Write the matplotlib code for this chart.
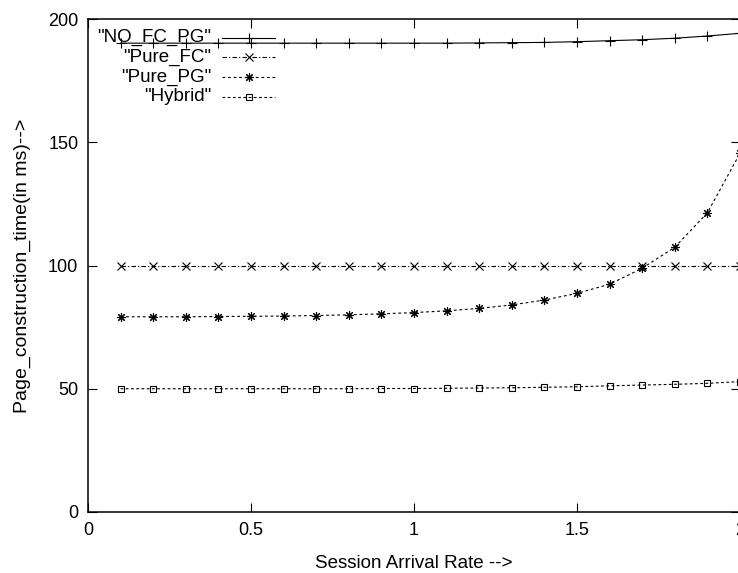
import numpy as np
import matplotlib
matplotlib.use("Agg")
import matplotlib.pyplot as plt

# session arrival rate
rate = [0.1, 0.2, 0.3, 0.4, 0.5, 0.6, 0.7, 0.8, 0.9, 1.0,
        1.1, 1.2, 1.3, 1.4, 1.5, 1.6, 1.7, 1.8, 1.9, 2.0]

# page construction time (ms)
no_fc_pg = [190.2, 190.2, 190.2, 190.2, 190.2, 190.2, 190.2, 190.2, 190.2, 190.2,
            190.2, 190.3, 190.4, 190.5, 190.8, 191.2, 191.6, 192.2, 193.1, 194.2]
pure_fc = [100, 100, 100, 100, 100, 100, 100, 100, 100, 100,
           100, 100, 100, 100, 100, 100, 100, 100, 100, 100]
pure_pg = [79.2, 79.2, 79.2, 79.3, 79.4, 79.5, 79.7, 80.0, 80.4, 80.9,
           81.6, 82.6, 84.0, 86.0, 88.7, 92.4, 98.9, 107.4, 121.4, 145.5]
hybrid = [50.0, 50.0, 50.0, 50.0, 50.0, 50.0, 50.0, 50.0, 50.1, 50.1,
          50.2, 50.3, 50.4, 50.6, 50.8, 51.2, 51.5, 51.8, 52.2, 52.9]

labels = ['"NO_FC_PG"', '"Pure_FC"', '"Pure_PG"', '"Hybrid"']

plt.rcParams['font.family'] = ['Liberation Sans', 'DejaVu Sans']
plt.rcParams['font.size'] = 13

fig = plt.figure(figsize=(7.38, 5.73), dpi=100)
ax = fig.add_axes([88 / 738, 1 - 512 / 573, 652 / 738, 493 / 573])

lw = 0.8
styles = [
    dict(ls='-', marker='+', ms=7, mew=lw),
    dict(ls=(0, (4, 2, 1, 2)), marker='x', ms=5.5, mew=lw),
    dict(ls=(0, (2.5, 2.5)), marker=(8, 2, 0), ms=6.5, mew=lw),
    dict(ls=(0, (2.5, 2.2)), marker='s', ms=5, mew=lw, mfc='none'),
]
series = [no_fc_pg, pure_fc, pure_pg, hybrid]

for ys, st in zip(series, styles):
    ax.plot(rate, ys, color='black', lw=lw, clip_on=False, **st)

# gnuplot-like key, right aligned text in the top-left corner
y0 = 0.962
dy = 0.040
for i, (lab, st) in enumerate(zip(labels, styles)):
    y = y0 - i * dy
    ax.text(0.189, y, lab, ha='right', va='center', fontsize=13.5,
            transform=ax.transAxes)
    ax.plot([0.2055, 0.287], [y, y], color='black', lw=lw, ls=st['ls'],
            transform=ax.transAxes, clip_on=False)
    mk = {k: v for k, v in st.items() if k != 'ls'}
    ax.plot([0.247], [y], color='black', ls='none', transform=ax.transAxes,
            clip_on=False, **mk)

ax.set_xlim(0, 2)
ax.set_ylim(0, 200)
ax.set_xticks([0, 0.5, 1, 1.5, 2])
ax.set_xticklabels(['0', '0.5', '1', '1.5', '2'])
ax.set_yticks([0, 50, 100, 150, 200])

for s in ax.spines.values():
    s.set_linewidth(1.1)
ax.tick_params(direction='in', length=6.5, width=0.8, top=True, right=True)
ax.tick_params(axis='y', pad=7)
ax.tick_params(axis='x', pad=7)

ax.set_xlabel('Session Arrival Rate -->', fontsize=13.5)
ax.set_ylabel('Page_construction_time(in ms)-->', fontsize=14)
ax.xaxis.set_label_coords(0.5, -0.088)
ax.yaxis.set_label_coords(-0.087, 0.5)

fig.savefig('out.png', dpi=100)
